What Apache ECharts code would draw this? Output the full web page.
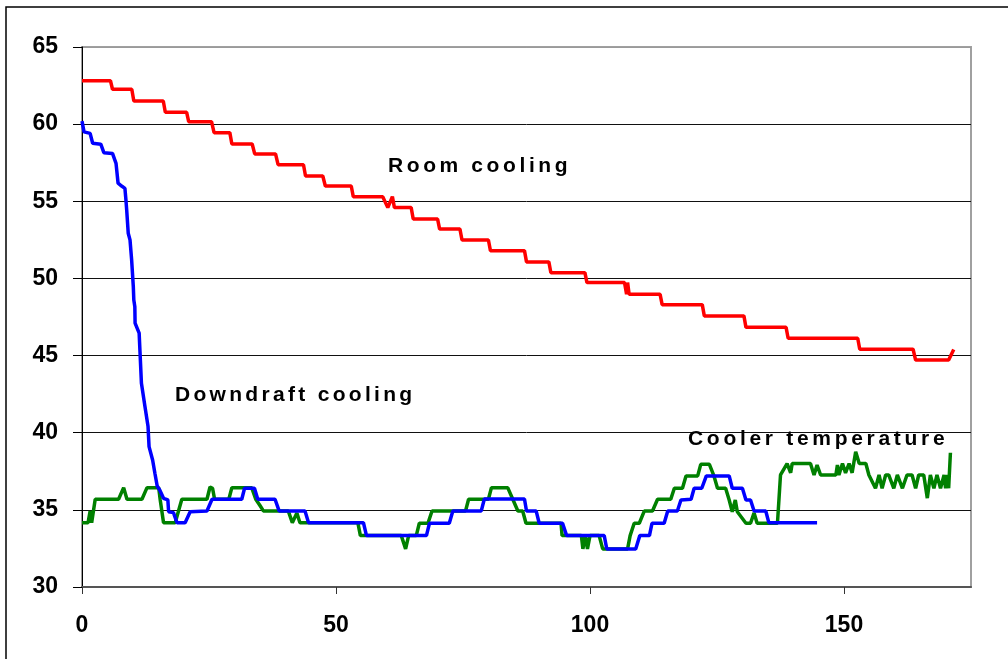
<!DOCTYPE html>
<html>
<head>
<meta charset="utf-8">
<script src="https://cdn.jsdelivr.net/npm/echarts@6/dist/echarts.min.js"></script>
<style>
html,body{margin:0;padding:0;background:#fff;}
#chart{width:1008px;height:659px;}
</style>
</head>
<body>
<div id="chart"></div>
<script>
// ---------- data ----------
const xTicks = [0, 50, 100, 150];
const yTicks = [30, 35, 40, 45, 50, 55, 60, 65];
const seriesNames = ['Room cooling', 'Downdraft cooling', 'Cooler temperature'];

const roomCooling = [
  [0, 62.82], [5.6, 62.82], [6.0, 62.26], [9.8, 62.26], [10.2, 61.50], [16.0, 61.50],
  [16.4, 60.77], [20.6, 60.77], [21.0, 60.16], [25.5, 60.16], [26.0, 59.45], [29.1, 59.45],
  [29.5, 58.71], [33.5, 58.71], [34.0, 58.07], [38.1, 58.07], [38.6, 57.37], [43.6, 57.37],
  [44.0, 56.64], [47.4, 56.64], [47.9, 55.99], [53.0, 55.99], [53.4, 55.30], [59.2, 55.30],
  [60.2, 54.59], [61.1, 55.30], [61.5, 54.59], [64.8, 54.59], [65.2, 53.85], [70.0, 53.85],
  [70.4, 53.20], [74.4, 53.20], [74.8, 52.49], [80.0, 52.49], [80.4, 51.80], [87.1, 51.80],
  [87.5, 51.07], [91.9, 51.07], [92.3, 50.37], [99.0, 50.37], [99.4, 49.73], [106.8, 49.73],
  [107.2, 48.97], [107.4, 49.73], [107.7, 48.97], [113.8, 48.97], [114.2, 48.30], [122.1, 48.30],
  [122.5, 47.57], [130.3, 47.57], [130.7, 46.83], [138.6, 46.83], [139.0, 46.12], [152.7, 46.12],
  [153.1, 45.41], [163.6, 45.41], [164.1, 44.71], [170.6, 44.71], [171.6, 45.40]
];

const downdraftCooling = [
  [0, 60.2], [0.4, 59.5], [1.6, 59.4], [2.1, 58.76], [3.7, 58.7], [4.3, 58.15], [6.0, 58.1],
  [6.7, 57.46], [7.1, 56.17], [7.8, 55.99], [8.45, 55.84], [8.65, 55.08], [8.8, 54.43],
  [9.1, 52.93], [9.45, 52.5], [9.77, 51.2], [10.1, 49.47], [10.2, 48.6], [10.4, 48.17],
  [10.45, 47.1], [11.25, 46.45], [11.4, 45.36], [11.7, 43.2], [12.4, 41.69], [13.0, 40.4],
  [13.2, 39.1], [13.9, 38.23], [14.35, 37.37], [14.8, 36.55], [15.3, 36.29], [16.05, 35.75],
  [16.9, 35.64], [17.05, 34.88], [18.0, 34.82], [18.7, 34.17], [20.3, 34.17], [21.0, 34.67],
  [21.3, 34.88], [24.6, 34.93], [25.6, 35.69], [31.45, 35.69], [32.0, 36.4], [33.95, 36.4],
  [34.6, 35.69], [38.0, 35.69], [38.8, 34.93], [43.9, 34.93], [44.6, 34.17], [55.4, 34.17],
  [56.0, 33.33], [67.8, 33.33], [68.4, 34.13], [72.3, 34.13], [73.0, 34.93], [78.6, 34.93],
  [79.2, 35.7], [87.1, 35.7], [87.5, 34.93], [89.4, 34.93], [90.0, 34.13], [94.6, 34.13],
  [95.4, 33.33], [102.8, 33.33], [103.3, 32.47], [109.0, 32.47], [109.8, 33.33], [111.7, 33.33],
  [112.2, 34.13], [114.6, 34.13], [115.3, 34.93], [117.2, 34.93], [117.9, 35.64], [119.9, 35.69],
  [120.5, 36.4], [122.0, 36.4], [122.9, 37.2], [127.4, 37.2], [128.0, 36.4], [130.0, 36.4],
  [130.7, 35.64], [131.6, 35.64], [132.3, 34.93], [134.6, 34.93], [135.2, 34.17], [144.7, 34.17]
];

const coolerTemperature = [
  [0, 34.17], [1.2, 34.17], [1.6, 34.93], [1.9, 34.17], [2.6, 35.69], [7.2, 35.69], [8.2, 36.44],
  [8.85, 35.69], [11.8, 35.69], [12.8, 36.44], [15.1, 36.44], [15.4, 35.64], [16.05, 34.17],
  [18.35, 34.17], [19.0, 34.93], [19.65, 35.69], [24.6, 35.69], [25.2, 36.48], [25.7, 36.4],
  [26.1, 35.69], [28.9, 35.69], [29.5, 36.44], [33.4, 36.44], [34.2, 35.69], [35.0, 35.3],
  [35.7, 34.93], [40.6, 34.93], [41.4, 34.17], [42.3, 34.8], [42.9, 34.17], [54.3, 34.17],
  [54.8, 33.33], [62.85, 33.33], [63.7, 32.47], [64.3, 33.33], [65.8, 33.33], [66.4, 34.13],
  [68.1, 34.13], [68.9, 34.93], [75.5, 34.93], [76.1, 35.69], [80.0, 35.69], [80.6, 36.44],
  [83.8, 36.44], [84.8, 35.69], [85.8, 34.93], [86.75, 34.93], [87.4, 34.13], [94.3, 34.13],
  [94.5, 33.33], [98.3, 33.33], [98.6, 32.47], [99.1, 33.33], [99.5, 32.47], [100.0, 33.33],
  [101.8, 33.33], [102.5, 32.47], [107.4, 32.47], [107.9, 33.33], [108.7, 34.13], [109.7, 34.13],
  [110.7, 34.93], [112.3, 34.93], [113.3, 35.69], [115.9, 35.69], [116.6, 36.4], [118.2, 36.4],
  [118.9, 37.2], [121.2, 37.2], [121.8, 37.95], [123.5, 37.95], [124.4, 37.2], [125.1, 36.4],
  [126.7, 36.4], [127.4, 35.64], [128.0, 34.88], [128.6, 35.64], [129.0, 34.88], [130.7, 34.13],
  [131.6, 34.13], [132.3, 34.8], [132.9, 34.13], [136.9, 34.13], [137.5, 37.26], [137.8, 37.26],
  [138.8, 38.0], [139.5, 37.4], [139.8, 38.0], [143.4, 38.0], [144.1, 37.26], [144.7, 37.9],
  [145.4, 37.26], [148.4, 37.26], [148.7, 37.9], [149.0, 37.26], [149.7, 38.0], [150.3, 37.4],
  [151.0, 38.0], [151.6, 37.4], [152.3, 38.77], [153.0, 38.0], [154.3, 38.0], [154.9, 37.26],
  [156.2, 36.4], [156.9, 37.26], [157.5, 36.4], [158.2, 37.26], [158.8, 37.26], [159.8, 36.4],
  [160.5, 37.26], [161.5, 36.4], [162.4, 37.26], [163.4, 37.26], [164.1, 36.4], [164.7, 37.26],
  [165.7, 37.26], [166.4, 35.76], [167.0, 37.26], [167.7, 36.4], [168.3, 37.26], [169.0, 36.4],
  [169.7, 37.26], [170.0, 36.4], [170.3, 37.26], [170.6, 36.4], [170.95, 38.7]
];

// ---------- letter-spaced annotation labels ----------
const SPACED = {};
SPACED[seriesNames[0]] = 3.6;
SPACED[seriesNames[1]] = 3.3;
SPACED[seriesNames[2]] = 3.7;
(function () {
  const proto = CanvasRenderingContext2D.prototype;
  const orig = proto.fillText;
  proto.fillText = function (t, x, y, w) {
    const sp = SPACED[t];
    if (sp !== undefined && 'letterSpacing' in this) {
      const prev = this.letterSpacing;
      this.letterSpacing = sp + 'px';
      if (w === undefined) orig.call(this, t, x, y); else orig.call(this, t, x, y, w);
      this.letterSpacing = prev;
    } else {
      if (w === undefined) orig.call(this, t, x, y); else orig.call(this, t, x, y, w);
    }
  };
})();

const FONT = '"Liberation Sans", Arial, Helvetica, sans-serif';
const chart = echarts.init(document.getElementById('chart'), null, { renderer: 'canvas' });

chart.setOption({
  backgroundColor: '#ffffff',
  animation: false,
  grid: {
    left: 82, top: 47, right: 37, bottom: 72,
    show: true, borderColor: '#a0a0a0', borderWidth: 2, backgroundColor: '#ffffff'
  },
  xAxis: {
    type: 'value', min: 0, max: 175, interval: 50,
    axisLine: { show: true, onZero: false, lineStyle: { color: '#555555', width: 2 } },
    axisTick: { show: true, inside: false, length: 7, lineStyle: { color: '#333333', width: 1 } },
    axisLabel: {
      show: true, margin: 27, fontSize: 23, fontWeight: 'bold', color: '#000', fontFamily: FONT,
      showMaxLabel: false,
      formatter: v => (xTicks.indexOf(v) >= 0 ? String(v) : '')
    },
    splitLine: { show: false }
  },
  yAxis: {
    type: 'value', min: 30, max: 65, interval: 5,
    axisLine: { show: true, lineStyle: { color: '#000000', width: 1 } },
    axisTick: { show: true, inside: false, length: 9, lineStyle: { color: '#000000', width: 1 } },
    axisLabel: {
      show: true, margin: 24, fontSize: 23, fontWeight: 'bold', color: '#000', fontFamily: FONT,
      formatter: v => (yTicks.indexOf(v) >= 0 ? String(v) : '')
    },
    splitLine: {
      show: true,
      lineStyle: { color: ['#555555', '#111111', '#111111', '#111111', '#111111', '#111111', '#111111', '#9a9a9a'], width: 1 }
    }
  },
  series: [
    { name: seriesNames[0], type: 'line', data: roomCooling, showSymbol: false, symbol: 'none',
      lineStyle: { color: '#ff0000', width: 3.5 }, z: 3 },
    { name: seriesNames[2], type: 'line', data: coolerTemperature, showSymbol: false, symbol: 'none',
      lineStyle: { color: '#008000', width: 3.5 }, z: 2 },
    { name: seriesNames[1], type: 'line', data: downdraftCooling, showSymbol: false, symbol: 'none',
      lineStyle: { color: '#0000ff', width: 3.5 }, z: 4 }
  ],
  graphic: [
    { type: 'rect', z: 100, silent: true,
      shape: { x: 6, y: 7, width: 1100, height: 800 },
      style: { fill: 'none', stroke: '#000000', lineWidth: 1.5 } },
    { type: 'text', x: 388, y: 166, z: 100,
      style: { text: seriesNames[0], font: 'bold 21px ' + FONT, fill: '#000', textAlign: 'left', textVerticalAlign: 'middle' } },
    { type: 'text', x: 175, y: 395, z: 100,
      style: { text: seriesNames[1], font: 'bold 21px ' + FONT, fill: '#000', textAlign: 'left', textVerticalAlign: 'middle' } },
    { type: 'text', x: 688, y: 439, z: 100,
      style: { text: seriesNames[2], font: 'bold 21px ' + FONT, fill: '#000', textAlign: 'left', textVerticalAlign: 'middle' } }
  ]
});
</script>
</body>
</html>
